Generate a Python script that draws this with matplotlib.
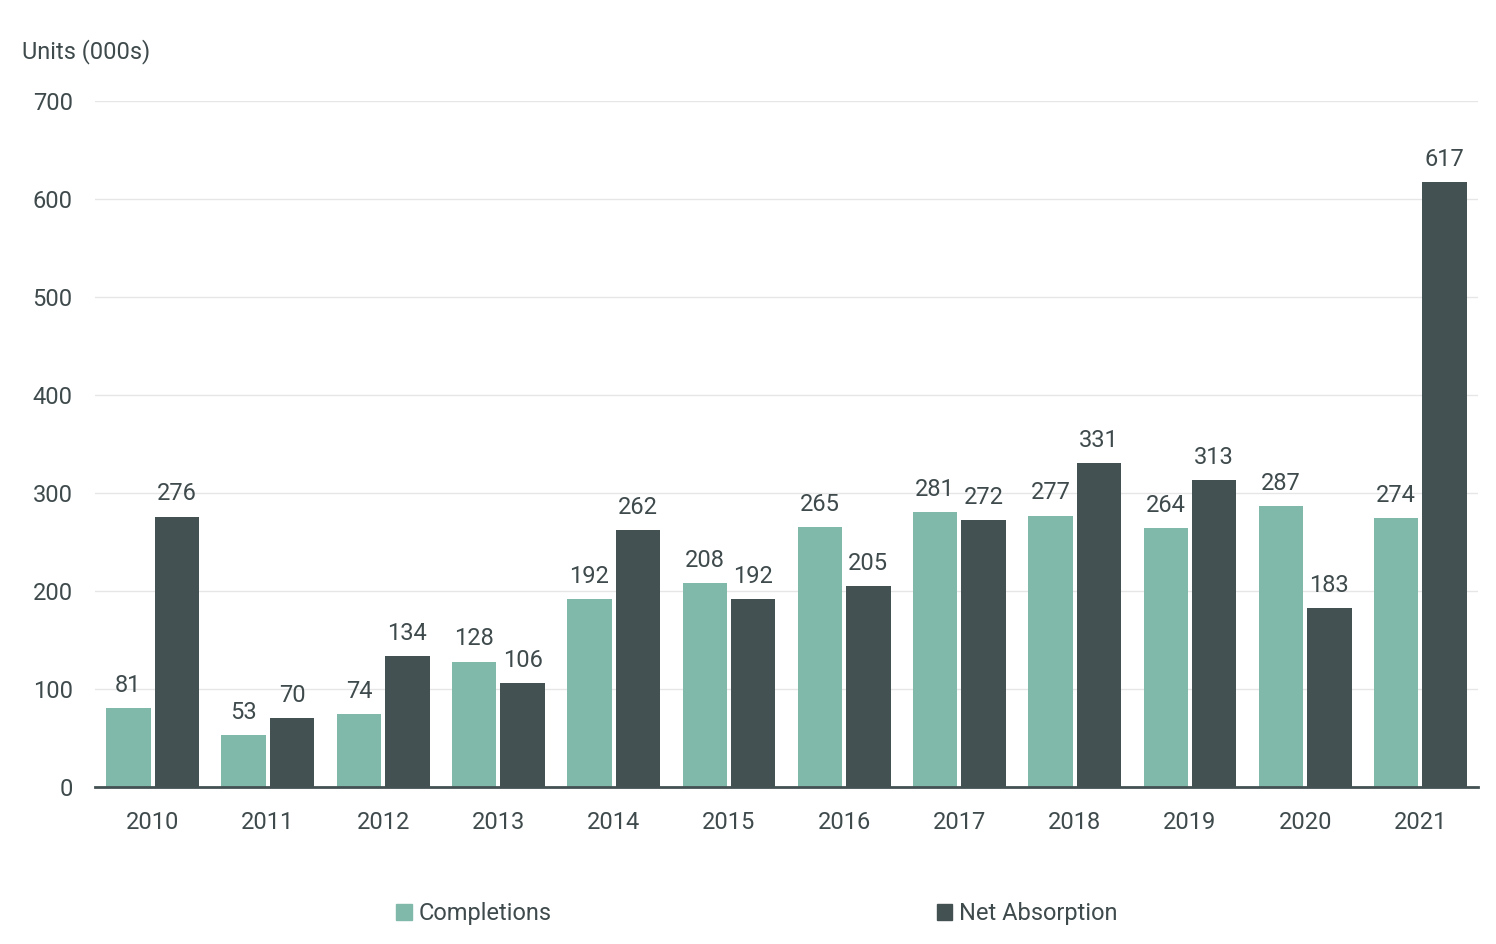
import numpy as np
import matplotlib.pyplot as plt
from matplotlib.patches import Patch

plt.rcParams['font.family'] = ['Roboto', 'DejaVu Sans']

years = ['2010', '2011', '2012', '2013', '2014', '2015',
         '2016', '2017', '2018', '2019', '2020', '2021']
completions = [81, 53, 74, 128, 192, 208, 265, 281, 277, 264, 287, 274]
net_absorption = [276, 70, 134, 106, 262, 192, 205, 272, 331, 313, 183, 617]

c_light = '#80b8aa'
c_dark = '#435152'
c_text = '#3f4a4c'

fig = plt.figure(figsize=(14.96, 9.44), dpi=100)
ax = fig.add_axes([0.0635, 0.1663, 0.9245, 0.7267])

x = np.arange(len(years))
w = 0.385
off = 0.21
b1 = ax.bar(x - off, completions, w, color=c_light)
b2 = ax.bar(x + off, net_absorption, w, color=c_dark)

fs = 17
for bars in (b1, b2):
    for r in bars:
        ax.annotate(f'{r.get_height():.0f}', (r.get_x() + r.get_width() / 2, r.get_height()),
                    xytext=(0, 8), textcoords='offset points', ha='center', va='bottom',
                    fontsize=fs, color=c_text)

ax.set_xlim(-0.5, 11.5)
ax.set_ylim(0, 700)
ax.set_yticks(range(0, 701, 100))
ax.set_xticks(x)
ax.set_xticklabels(years)
ax.tick_params(axis='both', length=0, labelsize=fs, labelcolor=c_text)
ax.tick_params(axis='x', pad=17)
ax.tick_params(axis='y', pad=16)
ax.grid(axis='y', color='#e6e6e6', linewidth=1)
ax.set_axisbelow(True)
for s in ['top', 'right', 'left']:
    ax.spines[s].set_visible(False)
ax.spines['bottom'].set_color(c_dark)
ax.spines['bottom'].set_linewidth(2)

fig.text(0.0147, 0.945, 'Units (000s)', fontsize=fs, color=c_text, va='center', ha='left')

handles = [Patch(color=c_light, label='Completions'), Patch(color=c_dark, label='Net Absorption')]
fig.legend(handles=handles, loc='center', bbox_to_anchor=(0.506, 0.032), ncol=2, frameon=False,
           fontsize=fs, labelcolor=c_text, handlelength=0.65, handleheight=0.65,
           handletextpad=0.3, columnspacing=16.3)

fig.savefig('out.png', dpi=100)
